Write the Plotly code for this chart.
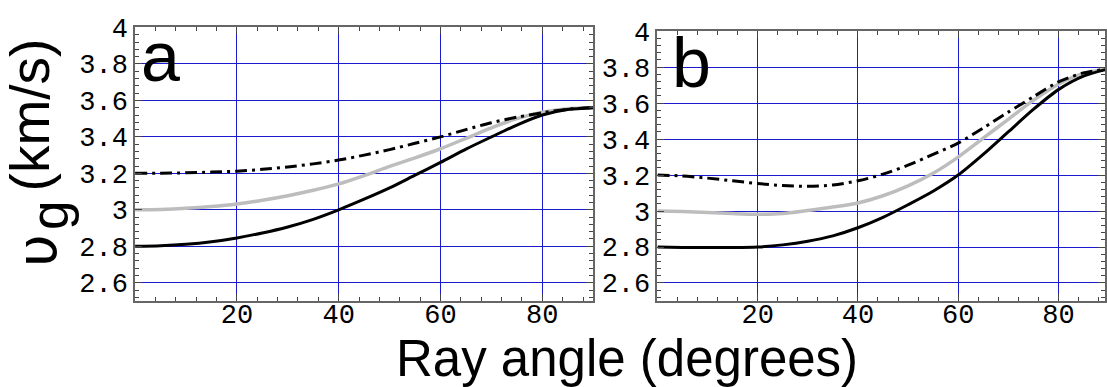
import plotly.graph_objects as go

# ---- data ----
angles = [0, 5, 10, 15, 20, 25, 30, 35, 40, 45, 50, 55, 60, 65, 70, 75, 80, 85, 90]

a_solid = [2.800, 2.803, 2.811, 2.825, 2.846, 2.873, 2.906, 2.948, 3.000, 3.058,
           3.120, 3.190, 3.260, 3.333, 3.400, 3.465, 3.520, 3.550, 3.560]
a_gray = [3.000, 3.002, 3.008, 3.018, 3.032, 3.052, 3.077, 3.107, 3.142, 3.188,
          3.238, 3.285, 3.335, 3.392, 3.450, 3.500, 3.535, 3.555, 3.560]
a_dashdot = [3.200, 3.201, 3.203, 3.207, 3.212, 3.222, 3.235, 3.252, 3.273, 3.300,
             3.330, 3.365, 3.400, 3.440, 3.478, 3.508, 3.532, 3.552, 3.560]

b_solid = [2.800, 2.798, 2.797, 2.797, 2.800, 2.812, 2.832, 2.862, 2.907, 2.965,
           3.035, 3.110, 3.200, 3.315, 3.440, 3.565, 3.675, 3.750, 3.790]
b_gray = [3.000, 2.997, 2.992, 2.986, 2.982, 2.986, 3.003, 3.022, 3.045, 3.085,
          3.140, 3.210, 3.300, 3.405, 3.510, 3.615, 3.705, 3.765, 3.790]
b_dashdot = [3.200, 3.195, 3.183, 3.168, 3.153, 3.142, 3.138, 3.145, 3.168, 3.205,
             3.255, 3.315, 3.378, 3.462, 3.550, 3.635, 3.718, 3.768, 3.790]

x_tickvals = [20, 40, 60, 80]
x_ticktext = ["20", "40", "60", "80"]
y_tickvals = [2.6, 2.8, 3.0, 3.2, 3.4, 3.6, 3.8, 4.0]
y_ticktext = ["2.6", "2.8", "3", "3.2", "3.4", "3.6", "3.8", "4"]

panel_labels = ["a", "b"]
x_title = "Ray angle (degrees)"

# ---- style ----
W, H = 1107, 387
GRID = "#1a1ad0"
FRAME = "#666666"
TICKC = "#444444"
GRAY = "#bdbdbd"
MONO = dict(family="Liberation Mono", size=27, color="black")
SANS = "Liberation Sans"


def px_x(p):
    return p / W


def px_y(p):
    return 1 - p / H


fig = go.Figure()

panels = [
    ("x", "y", a_solid, a_gray, a_dashdot),
    ("x2", "y2", b_solid, b_gray, b_dashdot),
]
for xa, ya, solid, gray, dd in panels:
    fig.add_trace(go.Scatter(x=angles, y=gray, mode="lines", xaxis=xa, yaxis=ya,
                             line=dict(color=GRAY, width=3.5, shape="spline", smoothing=0.8),
                             showlegend=False, hoverinfo="skip"))
    fig.add_trace(go.Scatter(x=angles, y=solid, mode="lines", xaxis=xa, yaxis=ya,
                             line=dict(color="black", width=3, shape="spline", smoothing=0.8),
                             showlegend=False, hoverinfo="skip"))
    fig.add_trace(go.Scatter(x=angles, y=dd, mode="lines", xaxis=xa, yaxis=ya,
                             line=dict(color="black", width=3, shape="spline", smoothing=0.8,
                                       dash="12px,5px,3px,5px"),
                             showlegend=False, hoverinfo="skip"))


def xaxis_style(domain, rng, anchor):
    return dict(domain=domain, range=rng, anchor=anchor,
                tickmode="array", tickvals=x_tickvals, ticktext=x_ticktext,
                ticks="inside", ticklen=7, tickwidth=1, tickcolor=TICKC,
                tickfont=MONO, ticklabelstandoff=-12,
                showgrid=True, gridcolor=GRID, gridwidth=1,
                showline=True, linecolor=FRAME, linewidth=1.5, mirror="allticks",
                zeroline=False,
                minor=dict(tickmode="linear", tick0=0, dtick=4, ticks="inside",
                           ticklen=4, tickcolor=TICKC, showgrid=False))


def yaxis_style(domain, anchor):
    return dict(domain=domain, range=[2.5, 4.0], anchor=anchor,
                tickmode="array", tickvals=y_tickvals, ticktext=y_ticktext,
                ticks="inside", ticklen=7, tickwidth=1, tickcolor=TICKC,
                tickfont=MONO, showgrid=True, gridcolor=GRID, gridwidth=1,
                showline=True, linecolor=FRAME, linewidth=1.5, mirror="allticks",
                zeroline=False,
                minor=dict(tickmode="linear", tick0=2.6, dtick=0.04, ticks="inside",
                           ticklen=4, tickcolor=TICKC, showgrid=False))


fig.update_layout(
    width=W, height=H,
    margin=dict(l=0, r=0, t=0, b=0),
    paper_bgcolor="white", plot_bgcolor="white",
    xaxis=xaxis_style([px_x(135.3), px_x(594.3)], [0, 90], "y"),
    yaxis=yaxis_style([px_y(298), px_y(15)], "x"),
    xaxis2=xaxis_style([px_x(658.6), 1.0], [0, 89.3], "y2"),
    yaxis2=yaxis_style([px_y(298), px_y(18.8)], "x2"),
)

annotations = [
    # panel letters
    dict(text=panel_labels[0], x=px_x(139), y=px_y(46), xanchor="left", yanchor="middle",
         font=dict(family=SANS, size=70, color="black")),
    dict(text=panel_labels[1], x=px_x(671), y=px_y(52), xanchor="left", yanchor="middle",
         font=dict(family=SANS, size=70, color="black")),
    # x title
    dict(text=x_title, x=px_x(628), y=px_y(357), xanchor="center", yanchor="middle",
         font=dict(family=SANS, size=51, color="black")),
    # y title pieces (rotated)
    dict(text="(km/s)", x=px_x(31), y=px_y(105), xanchor="center", yanchor="middle",
         textangle=-90, font=dict(family=SANS, size=55, color="black")),
    dict(text="g", x=px_x(50), y=px_y(209), xanchor="center", yanchor="middle",
         textangle=-90, font=dict(family=SANS, size=53, color="black")),
    dict(text="υ", x=px_x(37), y=px_y(246), xanchor="center", yanchor="middle",
         textangle=-90, font=dict(family="DejaVu Sans", size=56, color="black")),
]
for a in annotations:
    a.update(xref="paper", yref="paper", showarrow=False)
fig.update_layout(annotations=annotations)

fig.write_html("out.html")
